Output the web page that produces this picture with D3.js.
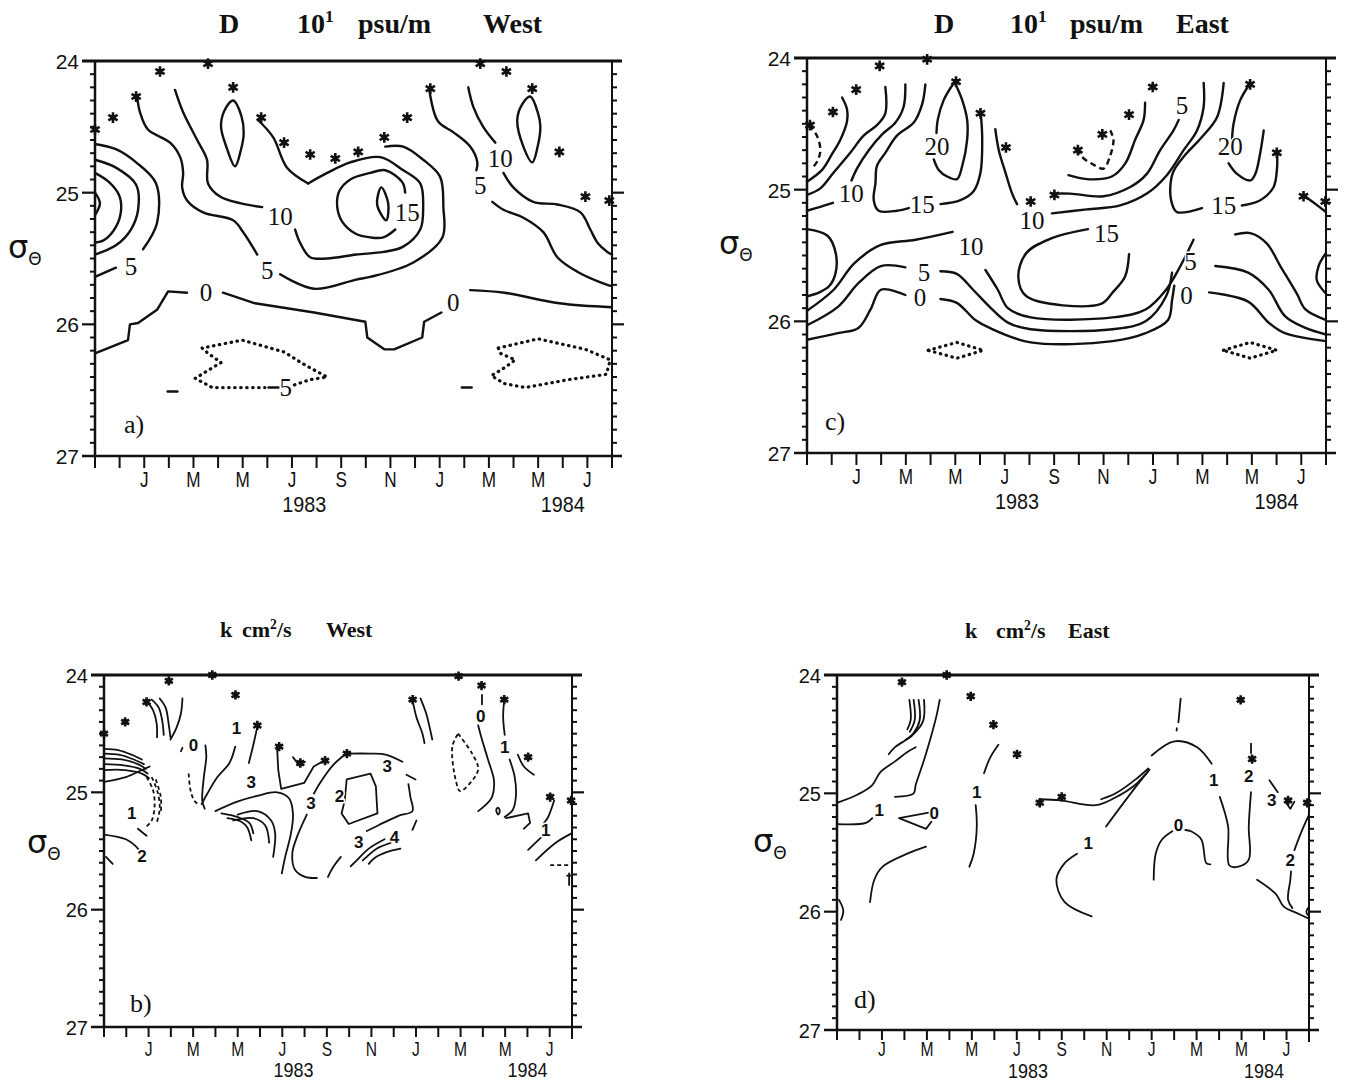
<!DOCTYPE html>
<html>
<head>
<meta charset="utf-8">
<script src="https://cdn.jsdelivr.net/npm/d3@7"></script>
<style>
  body { margin: 0; background: #fff; }
  svg { display: block; }
</style>
</head>
<body>
<svg id="chart" width="1346" height="1084"></svg>
<script>
// ---- axis data ----
var monthTicks = d3.range(0, 22);             // Nov 1982 .. Aug 1984, one tick a month
var monthLabels = [[2,'J'],[4,'M'],[6,'M'],[8,'J'],[10,'S'],[12,'N'],[14,'J'],[16,'M'],[18,'M'],[20,'J']];
var yearLabels = [[8.5,'1983'],[19,'1984']];
var sigmaTicks = [24, 25, 26, 27];

// ---- panel a : D West (month, sigma) ----
var aSolid = [
  [[0,24.63],[0.85,24.67],[1.67,24.77],[2.48,24.93],[2.52,25.23],[1.95,25.43]],
  [[0.85,25.57],[0,25.64]],
  [[0,24.75],[0.85,24.81],[1.67,24.94],[1.75,25.13],[1.46,25.28],[0.85,25.40],[0,25.47]],
  [[0,24.85],[0.57,24.92],[0.98,25.02],[1.06,25.13],[0.85,25.26],[0.37,25.36],[0,25.38]],
  [[0,25.0],[0.2,25.08],[0,25.17]],
  [[1.71,24.27],[1.83,24.39],[2.15,24.52],[3.05,24.62],[3.46,24.73],[3.58,24.85],[3.54,24.96],[3.74,25.06],[4.39,25.15],[5.61,25.21],[6.02,25.30],[6.59,25.47]],
  [[7.52,25.62],[8.90,25.73],[10.61,25.66],[11.18,25.64],[12.93,25.53],[14.11,25.34],[14.15,25.11],[14.02,24.88],[13.33,24.75],[12.52,24.65],[11.79,24.65]],
  [[3.25,24.22],[3.58,24.39],[4.15,24.60],[4.55,24.75],[4.59,24.93],[5.08,25.03],[5.89,25.08],[6.79,25.11]],
  [[8.13,25.28],[8.33,25.38],[8.74,25.49],[9.43,25.50],[10.61,25.47],[11.71,25.45],[12.52,25.41],[13.21,25.28],[13.33,25.11],[13.21,24.93],[12.52,24.83],[11.59,24.73],[10.37,24.77],[9.43,24.85],[8.66,24.93]],
  [[8.66,24.93],[7.80,24.81],[7.24,24.58],[6.63,24.45]],
  [[12.60,25.00],[12.48,24.92],[11.79,24.83],[11.18,24.85],[10.37,24.90],[9.92,24.99],[9.84,25.11],[10.04,25.22],[10.57,25.31],[11.18,25.34],[11.71,25.34],[12.20,25.28]],
  [[15.16,24.20],[15.37,24.35],[15.77,24.50],[16.26,24.62]],
  [[16.59,24.85],[16.99,24.96],[17.80,25.07],[18.78,25.09],[19.72,25.15],[20.12,25.28],[20.41,25.38],[20.81,25.45],[21,25.47]],
  [[13.58,24.22],[13.94,24.46],[14.55,24.54],[15.24,24.65],[15.53,24.77],[15.49,24.83]],
  [[16.14,25.07],[16.59,25.13],[17.40,25.19],[18.21,25.30],[18.78,25.49],[19.59,25.60],[20.81,25.70],[21,25.71]],
  [[15.24,25.74],[16.63,25.76],[18.86,25.84],[21,25.87]]
];
var aAngular = [
  [[0,26.22],[1.34,26.12],[1.42,26.00],[1.75,25.99],[2.52,25.89],[2.97,25.75],[3.74,25.76]],
  [[5.20,25.76],[6.50,25.84],[8.90,25.91],[10.98,25.98],[11.06,26.10],[11.75,26.19],[12.15,26.19],[13.29,26.10],[13.37,25.98],[14.07,25.91]],
  [[7.05,26.48],[7.45,26.48]],
  [[2.95,26.51],[3.35,26.51]],
  [[14.9,26.48],[15.3,26.48]]
];
var aLoops = [
  [[11.63,24.96],[11.91,25.08],[11.83,25.21],[11.46,25.09]],
  [[5.61,24.30],[5.95,24.42],[6.04,24.55],[5.92,24.68],[5.69,24.80],[5.35,24.66],[5.12,24.50],[5.25,24.38]],
  [[17.68,24.27],[18.0,24.40],[18.09,24.50],[17.98,24.65],[17.76,24.77],[17.40,24.65],[17.15,24.45],[17.35,24.33]]
];
var aDotted = [
  [[8.1,26.46],[8.74,26.42],[9.43,26.40],[8.54,26.31],[7.68,26.21],[5.98,26.12],[4.35,26.18],[4.59,26.22],[5.12,26.29],[4.59,26.35],[4.07,26.41],[4.76,26.48],[5.81,26.48],[6.9,26.48]],
  [[16.38,26.18],[18.0,26.11],[19.92,26.19],[20.93,26.27],[20.77,26.38],[19.23,26.42],[17.48,26.48],[16.63,26.45],[16.10,26.39],[16.63,26.33],[17.07,26.27],[16.46,26.22],[16.38,26.18]]
];
var aLabels = [[1.46,25.56,'5'],[7.0,25.59,'5'],[7.52,25.18,'10'],[12.68,25.15,'15'],[15.65,24.94,'5'],[16.46,24.74,'10'],[4.51,25.76,'0'],[14.55,25.83,'0'],[7.75,26.48,'5']];
var aStars = [[0,24.52],[0.73,24.43],[1.67,24.27],[2.64,24.08],[4.59,24.02],[5.61,24.20],[6.75,24.43],[7.68,24.62],[8.74,24.71],[9.76,24.74],[10.69,24.69],[11.75,24.58],[12.68,24.43],[13.62,24.21],[15.65,24.02],[16.71,24.08],[17.76,24.21],[18.86,24.69],[19.92,25.03],[20.89,25.06]];

// ---- panel c : D East ----
var cSolid = [
  [[1.42,24.30],[1.62,24.39],[1.62,24.48],[1.35,24.62],[1.01,24.73],[0.61,24.85],[0,24.94]],
  [[3.17,24.22],[3.17,24.42],[2.83,24.51],[2.29,24.59],[1.75,24.72],[1.08,24.87],[0.54,24.99],[0,25.04]],
  [[3.98,24.20],[3.91,24.37],[3.58,24.49],[3.04,24.58],[2.50,24.70],[2.02,24.84],[1.80,24.93]],
  [[1.05,25.10],[0.54,25.13],[0,25.16]],
  [[4.79,24.20],[4.66,24.35],[4.32,24.49],[3.64,24.59],[3.17,24.72],[2.83,24.82],[2.77,24.95],[2.70,25.08],[2.90,25.16],[3.64,25.16],[4.12,25.14]],
  [[5.40,25.11],[6.21,25.08],[6.75,25.01],[7.02,24.87],[7.09,24.62],[7.04,24.44]],
  [[5.94,24.19],[5.53,24.32],[5.29,24.47],[5.24,24.57]],
  [[5.13,24.77],[5.33,24.85],[5.67,24.90],[6.07,24.92],[6.28,24.82],[6.48,24.62],[6.48,24.47],[6.28,24.32],[6.01,24.20]],
  [[7.62,24.54],[7.76,24.70],[8.03,24.87],[8.30,25.03],[8.50,25.11]],
  [[9.91,25.18],[11.32,25.15],[12.67,25.12],[13.75,25.03],[14.56,24.89],[15.24,24.70],[15.78,24.55],[16.05,24.37],[16.05,24.19]],
  [[10.58,24.89],[11.32,24.92],[12.33,24.90],[12.88,24.80],[13.28,24.62],[13.62,24.47],[13.68,24.34]],
  [[9.97,25.03],[10.65,25.03],[12.0,25.05],[13.08,24.98],[13.75,24.88],[14.29,24.70],[14.83,24.55],[15.04,24.47]],
  [[16.86,24.19],[16.59,24.45],[15.98,24.60],[15.24,24.75],[14.83,24.86],[14.70,24.98],[14.76,25.10],[14.97,25.17],[15.98,25.14]],
  [[17.60,25.12],[18.34,25.08],[18.88,24.98],[19.02,24.83],[19.02,24.71]],
  [[17.94,24.19],[17.53,24.32],[17.26,24.50],[17.20,24.62]],
  [[17.06,24.80],[17.40,24.88],[17.94,24.93],[18.14,24.88],[18.34,24.72],[18.48,24.55]],
  [[20.08,25.04],[20.51,25.10],[21,25.17]],
  [[0,25.30],[0.83,25.35],[1.16,25.48],[1.16,25.63],[0.91,25.73],[0.50,25.78],[0,25.81]],
  [[0,25.92],[1.08,25.76],[1.91,25.56],[2.99,25.42],[4.40,25.38],[5.89,25.32]],
  [[7.22,25.61],[7.72,25.76],[8.13,25.90],[9.05,25.97],[12.37,25.97],[13.70,25.91],[14.53,25.76],[15.11,25.58],[15.64,25.38]],
  [[17.33,25.34],[17.94,25.33],[18.61,25.41],[19.15,25.58],[19.82,25.79],[20.17,25.91],[21,25.99]],
  [[0,26.03],[1.25,25.89],[2.08,25.71],[2.99,25.58],[3.98,25.59]],
  [[5.40,25.62],[6.06,25.64],[6.72,25.76],[7.39,25.89],[8.13,26.01],[9.05,26.06],[12.37,26.06],[13.70,26.0],[14.53,25.81],[14.77,25.63]],
  [[16.52,25.58],[17.85,25.63],[18.68,25.76],[19.34,25.96],[20.17,26.05],[21,26.10]],
  [[0,26.14],[1.25,26.09],[2.08,26.05],[2.57,25.91],[2.99,25.76],[3.98,25.80]],
  [[5.40,25.83],[6.06,25.86],[6.81,25.99],[7.39,26.05],[9.05,26.16],[12.37,26.15],[13.70,26.09],[14.61,25.99],[14.77,25.84],[14.86,25.73]],
  [[16.27,25.78],[17.85,25.85],[18.68,26.01],[19.34,26.09],[21,26.15]],
  [[13.03,25.49],[12.87,25.66],[12.37,25.78],[11.87,25.87],[8.88,25.81],[8.55,25.66],[8.88,25.48],[9.88,25.37],[11.37,25.30]],
  [[21,25.48],[20.70,25.58],[20.63,25.69],[21,25.79]]
];
var cDashed = [
  [[0.07,24.51],[0.40,24.59],[0.54,24.70],[0.43,24.78],[0.20,24.84]],
  [[10.92,24.69],[11.12,24.75],[11.59,24.81],[12.0,24.84],[12.27,24.74],[12.40,24.62],[12.27,24.55]]
];
var cDotted = [
  [[4.90,26.22],[6.06,26.16],[7.14,26.22],[6.06,26.28],[4.90,26.22]],
  [[16.85,26.22],[17.93,26.16],[19.01,26.22],[17.93,26.28],[16.85,26.22]]
];
var cLabels = [[1.79,25.03,'10'],[4.66,25.11,'15'],[5.26,24.67,'20'],[9.1,25.23,'10'],[15.17,24.36,'5'],[16.86,25.12,'15'],[17.13,24.67,'20'],[6.64,25.43,'10'],[4.73,25.63,'5'],[4.57,25.82,'0'],[12.12,25.33,'15'],[15.52,25.54,'5'],[15.36,25.80,'0']];
var cStars = [[0.12,24.51],[1.05,24.41],[1.99,24.24],[2.94,24.06],[4.86,24.01],[6.03,24.18],[7.02,24.42],[8.05,24.68],[9.05,25.09],[10.01,25.04],[10.96,24.70],[11.95,24.58],[13.03,24.43],[13.99,24.22],[17.93,24.20],[19.01,24.72],[20.09,25.05],[20.97,25.09]];

// ---- panel b : k West ----
var bSolid = [
  [[0,24.63],[0.63,24.64],[1.25,24.68],[1.70,24.72]],
  [[0,24.67],[0.71,24.68],[1.34,24.72],[1.79,24.76]],
  [[0,24.71],[0.80,24.72],[1.52,24.76],[1.88,24.80]],
  [[0,24.76],[0.89,24.77],[1.61,24.80],[1.96,24.84]],
  [[0,24.81],[0.95,24.81],[1.70,24.84],[2.02,24.88]],
  [[0,24.91],[0.98,24.87],[1.70,24.81],[2.05,24.78]],
  [[1.52,25.31],[1.91,25.37]],
  [[0,25.36],[0.98,25.40],[1.43,25.46],[1.61,25.50]],
  [[0.09,25.55],[0.39,25.61]],
  [[1.91,24.22],[2.20,24.30],[2.36,24.41],[2.38,24.53]],
  [[2.14,24.21],[2.46,24.28],[2.63,24.41],[2.68,24.51]],
  [[2.5,24.20],[2.77,24.28],[2.91,24.43],[2.98,24.53]],
  [[3.52,24.20],[3.45,24.33],[3.25,24.45],[2.98,24.55]],
  [[3.45,24.65],[3.52,24.62]],
  [[4.55,24.60],[4.59,24.70],[4.48,24.87],[4.41,25.07],[4.52,25.14]],
  [[5.89,24.61],[5.63,24.75],[5.09,24.87],[4.64,25.01],[4.38,25.10]],
  [[6.88,24.44],[6.72,24.58],[6.50,24.75]],
  [[5.0,25.16],[5.98,25.08],[6.88,25.03],[7.77,25.0],[8.30,25.05],[8.48,25.18],[8.39,25.35],[8.13,25.55],[7.98,25.69]],
  [[5.27,25.18],[5.98,25.21],[6.52,25.26],[6.70,25.35]],
  [[5.54,25.22],[6.16,25.25],[6.43,25.30],[6.61,25.41]],
  [[5.80,25.24],[6.70,25.22],[7.23,25.28],[7.41,25.43]],
  [[6.0,25.19],[6.88,25.16],[7.50,25.24],[7.68,25.35],[7.59,25.55]],
  [[10.80,24.68],[10.27,24.77],[9.73,24.91],[9.42,25.01]],
  [[9.10,25.19],[8.66,25.38],[8.45,25.52],[8.57,25.66],[9.02,25.72],[9.55,25.73]],
  [[10.89,24.67],[11.96,24.67],[12.68,24.68],[13.39,24.74]],
  [[13.57,24.85],[13.98,24.89]],
  [[13.66,24.93],[13.75,25.04],[13.84,25.16],[13.21,25.20],[12.32,25.28],[11.79,25.33]],
  [[14.02,25.24],[13.84,25.32]],
  [[10.63,25.55],[10.27,25.64],[10.05,25.72]],
  [[12.59,25.40],[11.88,25.48],[11.34,25.58],[11.07,25.63]],
  [[12.86,25.43],[12.23,25.48],[11.79,25.55],[11.61,25.58]],
  [[13.30,25.48],[12.68,25.51],[12.14,25.56],[11.88,25.61]],
  [[13.84,24.21],[14.02,24.36],[14.29,24.50],[14.38,24.58]],
  [[14.20,24.20],[14.46,24.33],[14.64,24.47],[14.73,24.55]],
  [[16.96,24.17],[16.96,24.25]],
  [[16.79,24.43],[16.96,24.55],[17.23,24.72],[17.50,24.90],[17.41,25.04],[17.05,25.12],[16.79,25.16]],
  [[17.95,24.23],[17.91,24.36],[17.98,24.51]],
  [[18.20,24.72],[18.43,24.87],[18.48,25.04],[18.34,25.15],[17.98,25.21]],
  [[18.57,24.68],[18.84,24.78],[19.29,24.85]],
  [[20.20,25.07],[19.93,25.21],[19.75,25.26]],
  [[19.64,25.38],[19.03,25.49]],
  [[20.98,25.35],[20.27,25.43],[19.38,25.58]],
  [[20.87,25.69],[20.87,25.79]],
  [[20.78,25.71],[20.96,25.71]]
];
var bAngular = [
  [[7.77,24.63],[7.82,24.81],[7.95,24.97],[8.98,24.92],[9.41,24.78],[9.88,24.73]],
  [[8.48,24.70],[8.75,24.77],[9.02,24.74]],
  [[18.04,25.22],[19.03,25.18],[19.12,25.26],[18.84,25.31]],
  [[10.89,24.89],[11.96,24.84],[12.20,24.95],[12.27,25.18],[10.98,25.27],[10.66,25.18],[10.80,25.07],[10.89,24.89]]
];
var bLoops = [
  [[17.60,25.15],[17.68,25.13],[17.76,25.16],[17.68,25.19]]
];
var bDashed = [
  [[1.91,24.87],[2.20,24.98],[2.27,25.12],[2.14,25.24],[1.91,25.29]],
  [[2.14,24.87],[2.41,25.0],[2.5,25.14],[2.38,25.25]],
  [[2.32,24.89],[2.55,25.04],[2.55,25.18]],
  [[3.80,24.84],[3.88,24.98],[4.05,25.07],[4.29,25.11]],
  [[15.89,24.50],[16.52,24.67],[16.79,24.80],[16.52,24.90],[15.98,24.99],[15.80,24.91],[15.63,24.61],[15.89,24.50]],
  [[20.02,25.62],[21,25.62]]
];
var bLabels = [[1.25,25.18,'1'],[1.70,25.54,'2'],[4.02,24.60,'0'],[5.95,24.45,'1'],[6.61,24.91,'3'],[9.29,25.09,'3'],[10.57,25.03,'2'],[12.71,24.78,'3'],[11.43,25.42,'3'],[13.04,25.38,'4'],[16.91,24.35,'0'],[17.98,24.61,'1'],[19.82,25.32,'1']];
var bStars = [[0,24.5],[0.95,24.40],[1.91,24.23],[2.91,24.05],[4.86,24.0],[5.90,24.17],[6.88,24.43],[7.86,24.61],[8.81,24.75],[9.92,24.73],[10.90,24.67],[13.85,24.21],[15.91,24.01],[16.94,24.09],[17.96,24.21],[19.03,24.70],[20.02,25.04],[20.96,25.07]];

// ---- panel d : k East ----
var dSolid = [
  [[3.22,24.21],[3.28,24.38],[3.13,24.46]],
  [[3.41,24.21],[3.46,24.38],[3.24,24.48]],
  [[3.63,24.21],[3.68,24.38],[3.41,24.49],[3.04,24.55]],
  [[3.87,24.21],[3.83,24.39],[3.35,24.51],[2.58,24.61],[2.30,24.67]],
  [[0,25.08],[0.92,25.01],[1.57,24.93],[1.93,24.82],[2.58,24.73],[3.13,24.65],[3.50,24.61]],
  [[4.57,24.21],[4.42,24.35],[4.14,24.55],[3.87,24.72],[3.50,24.93],[3.41,25.0],[2.58,25.03]],
  [[0,25.26],[1.29,25.25],[1.57,25.21]],
  [[3.96,25.45],[3.13,25.51],[2.03,25.62],[1.66,25.73],[1.47,25.92]],
  [[0.09,25.90],[0.28,25.99],[0.18,26.07]],
  [[7.18,24.59],[6.81,24.70],[6.54,24.83]],
  [[6.17,25.10],[6.22,25.28],[6.08,25.51],[5.89,25.62]],
  [[9.02,25.05],[9.94,25.06],[11.51,25.10],[12.34,25.04],[13.26,24.93],[13.90,24.80]],
  [[11.75,25.05],[12.4,25.00],[13.3,24.88],[13.85,24.79]],
  [[13.90,24.80],[13.07,25.0],[11.97,25.28]],
  [[10.68,25.51],[10.13,25.59],[9.76,25.73],[10.13,25.92],[11.33,26.04]],
  [[14.0,24.68],[15.01,24.56],[16.02,24.61],[16.67,24.75]],
  [[17.03,25.03],[17.40,25.28],[17.46,25.61],[17.86,25.62],[18.32,25.56],[18.32,25.28],[18.42,24.99]],
  [[18.42,24.58],[18.42,24.66]],
  [[15.29,24.20],[15.19,24.40]],
  [[15.12,24.45],[15.11,24.47]],
  [[14.09,25.73],[14.18,25.51],[14.46,25.39],[14.92,25.32]],
  [[15.5,25.31],[15.75,25.32],[16.21,25.39],[16.43,25.59],[16.61,25.60]],
  [[19.24,24.89],[19.61,24.99]],
  [[21,25.18],[20.63,25.34],[20.35,25.48]],
  [[20.20,25.66],[20.17,25.73],[20.07,25.90],[20.26,25.97]],
  [[18.69,25.73],[19.52,25.85],[19.89,25.96],[20.44,26.01],[21,26.06]],
  [[21,25.96],[20.88,26.0],[21,26.04]]
];
var dAngular = [
  [[4.14,25.16],[2.76,25.21],[3.96,25.30],[4.2,25.24]],
  [[19.98,25.08],[20.17,25.13],[20.35,25.07]]
];
var dLabels = [[1.88,25.14,'1'],[4.33,25.17,'0'],[6.22,24.99,'1'],[11.18,25.42,'1'],[15.19,25.27,'0'],[16.76,24.89,'1'],[18.32,24.85,'2'],[19.34,25.06,'3'],[20.17,25.56,'2']];
var dStars = [[2.89,24.06],[4.88,24.0],[5.95,24.18],[6.96,24.42],[8.01,24.67],[9.02,25.08],[10.0,25.03],[17.96,24.21],[18.47,24.71],[20.07,25.06],[20.92,25.08]];

// ---- layout ----
var SANS = "'Liberation Sans', Arial, sans-serif";
var SERIF = "'Liberation Serif', 'Times New Roman', serif";
var INK = '#111';

var panels = [
  { x0: 95, x1: 612, y0: 61, y1: 456, big: true, tag: 'a)', tagX: 124, tagY: 433, sigX: 8, sigY: 258, mY: 31, yrY: 56,
    solid: aSolid, angular: aAngular, loops: aLoops, dashed: [], dotted: aDotted, labels: aLabels, stars: aStars },
  { x0: 807, x1: 1326, y0: 58, y1: 453, big: true, tag: 'c)', tagX: 825, tagY: 430, sigX: 719, sigY: 254, mY: 31, yrY: 56,
    solid: cSolid, angular: [], loops: [], dashed: cDashed, dotted: cDotted, labels: cLabels, stars: cStars },
  { x0: 104, x1: 572, y0: 675, y1: 1027, big: false, tag: 'b)', tagX: 130, tagY: 1012, sigX: 27, sigY: 853, mY: 29, yrY: 50,
    solid: bSolid, angular: bAngular, loops: bLoops, dashed: bDashed, dotted: [], labels: bLabels, stars: bStars },
  { x0: 837, x1: 1309, y0: 675, y1: 1030, big: false, tag: 'd)', tagX: 854, tagY: 1008, sigX: 753, sigY: 852, mY: 26, yrY: 48,
    solid: dSolid, angular: dAngular, loops: [], dashed: [], dotted: [], labels: dLabels, stars: dStars }
];

var svg = d3.select('#chart');

function drawPanel(p) {
  var g = svg.append('g');
  var x = d3.scaleLinear().domain([0, 21]).range([p.x0, p.x1]);
  var y = d3.scaleLinear().domain([24, 27]).range([p.y0, p.y1]);
  var lw = p.big ? 2.4 : 1.8;

  // frame
  var frame = [
    [p.x0 - 13, p.y0, p.x1 + 10, p.y0, 3],
    [p.x0, p.y0, p.x0, p.y1, 2.5],
    [p.x1, p.y0, p.x1, p.y1 + 12, 2],
    [p.x0 - 13, p.y1, p.x1 + 10, p.y1, 2.5]
  ];
  g.selectAll('.frame').data(frame).enter().append('line')
    .attr('x1', function(d) { return d[0]; }).attr('y1', function(d) { return d[1]; })
    .attr('x2', function(d) { return d[2]; }).attr('y2', function(d) { return d[3]; })
    .attr('stroke', INK).attr('stroke-width', function(d) { return d[4]; });

  // month ticks
  g.selectAll('.mt').data(monthTicks).enter().append('line')
    .attr('x1', function(d) { return x(d); }).attr('x2', function(d) { return x(d); })
    .attr('y1', p.y1).attr('y2', p.y1 + (p.big ? 12 : 10))
    .attr('stroke', INK).attr('stroke-width', 2);

  // sigma ticks, minor every 0.1
  var minor = d3.range(1, 30).filter(function(i) { return i % 10 !== 0; }).map(function(i) { return 24 + i / 10; });
  g.selectAll('.lm').data(minor).enter().append('line')
    .attr('x1', p.x0 - 5).attr('x2', p.x0)
    .attr('y1', function(d) { return y(d); }).attr('y2', function(d) { return y(d); })
    .attr('stroke', INK).attr('stroke-width', 2);
  g.selectAll('.rm').data(minor).enter().append('line')
    .attr('x1', p.x1).attr('x2', p.x1 + 5)
    .attr('y1', function(d) { return y(d); }).attr('y2', function(d) { return y(d); })
    .attr('stroke', INK).attr('stroke-width', 2);
  g.selectAll('.lM').data([25, 26]).enter().append('line')
    .attr('x1', p.x0 - 13).attr('x2', p.x0)
    .attr('y1', function(d) { return y(d); }).attr('y2', function(d) { return y(d); })
    .attr('stroke', INK).attr('stroke-width', 2.2);
  g.selectAll('.rM').data([25, 26]).enter().append('line')
    .attr('x1', p.x1).attr('x2', p.x1 + 12)
    .attr('y1', function(d) { return y(d); }).attr('y2', function(d) { return y(d); })
    .attr('stroke', INK).attr('stroke-width', 2.2);

  // tick labels
  g.selectAll('.sl').data(sigmaTicks).enter().append('text')
    .attr('x', p.x0 - 16).attr('y', function(d) { return y(d); }).attr('dy', '0.38em')
    .attr('text-anchor', 'end').attr('font-family', SANS).attr('font-size', p.big ? 21 : 20)
    .attr('fill', INK).text(function(d) { return d; });

  g.selectAll('.ml').data(monthLabels).enter().append('text')
    .attr('transform', function(d) { return 'translate(' + x(d[0]) + ',' + (p.y1 + p.mY) + ') scale(0.78,1)'; })
    .attr('text-anchor', 'middle').attr('font-family', SANS).attr('font-size', p.big ? 22 : 20)
    .attr('fill', INK).text(function(d) { return d[1]; });
  g.selectAll('.yl').data(yearLabels).enter().append('text')
    .attr('transform', function(d) { return 'translate(' + x(d[0]) + ',' + (p.y1 + p.yrY) + ') scale(0.9,1)'; })
    .attr('text-anchor', 'middle').attr('font-family', SANS).attr('font-size', p.big ? 22 : 20)
    .attr('fill', INK).text(function(d) { return d[1]; });

  // sigma-theta label
  var sg = g.append('text').attr('x', p.sigX).attr('y', p.sigY)
    .attr('font-family', "'DejaVu Sans', sans-serif").attr('fill', INK);
  sg.append('tspan').attr('font-size', 32).text('σ');
  sg.append('tspan').attr('font-size', 17).attr('dy', 7).text('Θ');

  // contours
  var smooth = d3.line().x(function(d) { return x(d[0]); }).y(function(d) { return y(d[1]); })
    .curve(d3.curveCatmullRom.alpha(0.5));
  var straight = d3.line().x(function(d) { return x(d[0]); }).y(function(d) { return y(d[1]); });
  var closedLine = d3.line().x(function(d) { return x(d[0]); }).y(function(d) { return y(d[1]); })
    .curve(d3.curveCatmullRomClosed.alpha(0.5));

  function paths(list, gen, dash, cap, width) {
    g.append('g').selectAll('path').data(list).enter().append('path')
      .attr('d', gen).attr('fill', 'none').attr('stroke', INK)
      .attr('stroke-width', width || lw).attr('stroke-linejoin', 'round')
      .attr('stroke-linecap', cap || 'round')
      .attr('stroke-dasharray', dash || null);
  }
  paths(p.solid, smooth);
  paths(p.angular, straight);
  paths(p.loops, closedLine);
  paths(p.dashed, smooth, p.big ? '6,4' : '4,3', 'butt');
  paths(p.dotted, straight, '0.5,5.5', 'round', 3.2);

  // contour labels
  g.selectAll('.cl').data(p.labels).enter().append('text')
    .attr('x', function(d) { return x(d[0]); }).attr('y', function(d) { return y(d[1]); })
    .attr('dy', '0.35em').attr('text-anchor', 'middle')
    .attr('font-family', p.big ? SERIF : SANS).attr('font-size', p.big ? 25 : 17)
    .attr('font-weight', p.big ? 'normal' : 'bold')
    .attr('fill', INK).attr('stroke', '#fff').attr('stroke-width', 3).attr('paint-order', 'stroke')
    .text(function(d) { return d[2]; });

  // station markers
  var star = d3.symbol().type(d3.symbolAsterisk).size(p.big ? 80 : 60);
  g.selectAll('.st').data(p.stars).enter().append('path')
    .attr('transform', function(d) { return 'translate(' + x(d[0]) + ',' + y(d[1]) + ')'; })
    .attr('d', star).attr('fill', 'none').attr('stroke', INK).attr('stroke-width', 2.6);
  g.selectAll('.sq').data(p.stars).enter().append('rect')
    .attr('x', function(d) { return x(d[0]) - 2.5; }).attr('y', function(d) { return y(d[1]) - 2.5; })
    .attr('width', 5).attr('height', 5).attr('fill', INK);

  // panel tag
  g.append('text').attr('x', p.tagX).attr('y', p.tagY)
    .attr('font-family', SERIF).attr('font-size', 26).attr('fill', INK).text(p.tag);
}

panels.forEach(drawPanel);

// ---- titles ----
function title(words, y, size) {
  words.forEach(function(w) {
    var t = svg.append('text').attr('x', w[0]).attr('y', y)
      .attr('font-family', SERIF).attr('font-weight', 'bold').attr('font-size', size).attr('fill', INK);
    t.append('tspan').text(w[1]);
    if (w[2]) {
      t.append('tspan').attr('dy', -size * 0.38).attr('font-size', size * 0.62).text(w[2]);
      if (w[3]) t.append('tspan').attr('dy', size * 0.38).text(w[3]);
    }
  });
}
title([[219, 'D'], [297, '10', '1'], [358, 'psu/m'], [483, 'West']], 33, 28);
title([[934, 'D'], [1010, '10', '1'], [1070, 'psu/m'], [1176, 'East']], 33, 28);
title([[220, 'k'], [242, 'cm', '2', '/s'], [326, 'West']], 637, 22);
title([[965, 'k'], [996, 'cm', '2', '/s'], [1068, 'East']], 638, 22);
</script>
</body>
</html>
